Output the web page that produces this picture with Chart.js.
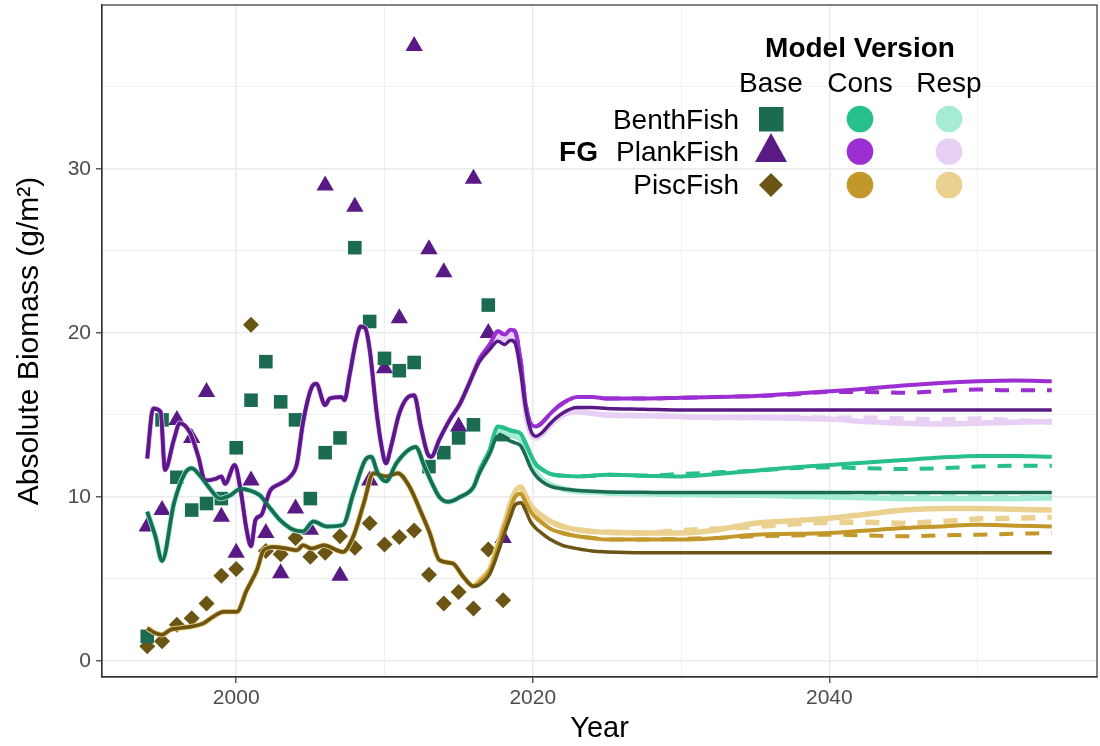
<!DOCTYPE html>
<html>
<head>
<meta charset="utf-8">
<script src="https://cdn.jsdelivr.net/npm/chart.js@4.4.0/dist/chart.umd.min.js"></script>
<style>
html, body { margin: 0; padding: 0; background: #fff; }
</style>
</head>
<body>
<canvas id="myChart" width="1100" height="746"></canvas>
<script>
// observed biomass (points), one per year
const obsYears = [1994,1995,1996,1997,1998,1999,2000,2001,2002,2003,2004,2005,2006,2007,2008,2009,2010,2011,2012,2013,2014,2015,2016,2017,2018];
const benthObs = [1.5,14.7,11.2,9.2,9.6,9.9,13.0,15.9,18.25,15.8,14.7,9.9,12.7,13.6,25.2,20.7,18.45,17.7,18.2,11.85,12.7,13.6,14.4,21.7,13.8];
const plankObs = [8.2,9.2,14.7,13.6,16.4,8.8,6.6,11.0,7.8,5.35,9.3,8.0,29.0,5.2,27.7,11.0,17.85,20.9,37.5,25.1,23.7,14.3,29.4,20.0,7.5];
const piscObs = [0.9,1.2,2.2,2.6,3.5,5.2,5.6,20.5,6.7,6.5,7.5,6.35,6.6,7.6,6.9,8.4,7.1,7.55,7.95,5.25,3.5,4.2,3.2,6.8,3.7];

// hindcast part of the model runs (same for every version)
const benthHistYears = [1994,1994.55,1995,1995.8,1996.55,1997,1997.6,1998.15,1998.9,1999.6,2000.3,2000.9,2001.6,2002.3,2002.95,2003.85,2004.5,2005.2,2006.1,2007.2,2007.9,2008.7,2009.1,2009.55,2010.1,2010.8,2011.6,2012.1,2012.7,2013.25,2013.7,2014.3,2015.1,2016.0];
const benthHist = [9.1,7.6,6.1,9.6,11.45,11.75,11.25,10.6,9.9,10.1,10.5,10.4,10.1,9.3,8.6,8.0,7.9,8.5,8.2,8.3,10.2,12.25,12.45,11.45,10.95,12.05,12.85,13.05,11.85,10.75,10.0,9.7,10.0,10.6];
const plankHistYears = [1994,1994.4,1994.9,1995.2,1995.8,1996.2,1996.9,1997.45,1997.9,1998.6,1999.0,1999.25,1999.9,2000.3,2000.7,2001.0,2001.3,2001.7,2002.05,2002.3,2002.95,2003.6,2004.1,2004.5,2005.1,2005.4,2006.0,2006.3,2007.1,2007.3,2007.65,2008.1,2008.4,2008.7,2009.0,2009.45,2009.8,2010.1,2010.45,2011.0,2011.6,2012.0,2012.45,2012.9,2013.15,2013.7,2014.4,2015.1,2015.7];
const plankHist = [12.35,15.4,15.2,11.65,13.5,14.5,13.9,12.45,11.0,11.1,11.25,10.8,11.95,10.4,8.0,7.0,8.6,8.9,9.8,10.4,10.8,11.2,12.05,14.5,16.7,16.9,15.6,16.0,16.1,15.9,17.45,19.6,20.4,20.3,19.0,15.3,13.1,12.05,13.1,15.1,16.1,16.2,14.3,12.65,12.45,13.5,14.7,15.7,16.9];
const piscHistYears = [1994,1994.55,1995,1995.55,1996.2,1997,1997.8,1998.45,1999.15,2000.05,2000.7,2001.4,2001.85,2002.5,2003.4,2004.1,2004.5,2005.1,2005.9,2007.2,2007.9,2008.6,2009.25,2010.1,2010.9,2011.7,2012.4,2013.05,2013.7,2014.6,2015.3,2016.0];
const piscHist = [2.0,1.7,1.6,1.9,2.0,2.1,2.3,2.7,3.0,3.0,4.3,5.55,6.75,6.95,6.85,6.75,7.05,6.85,7.05,6.65,7.6,9.6,11.45,11.25,11.45,10.6,9.2,7.8,6.15,5.95,5.15,4.55];

// last hindcast years + projections, per model version (Alt = dashed)
const futYears = [2016.4,2017.1,2017.65,2018.1,2018.5,2018.8,2019.2,2019.5,2019.85,2020.2,2020.6,2021.2,2022,2023,2024,2025,2027.5,2030,2032.5,2035,2037.5,2040,2042.5,2045,2047.5,2050,2052.5,2055];
const benthBase = [11.45,12.65,13.7,13.6,13.4,13.3,13.1,12.55,11.8,11.3,10.95,10.65,10.5,10.4,10.35,10.3,10.28,10.27,10.27,10.27,10.27,10.27,10.27,10.27,10.27,10.27,10.27,10.27];
const benthCons = [11.6,12.9,14.3,14.2,14.05,14.0,13.85,13.3,12.6,12.0,11.7,11.4,11.3,11.25,11.3,11.35,11.3,11.25,11.4,11.6,11.8,11.95,12.1,12.25,12.4,12.5,12.5,12.45];
const benthConsAlt = [11.6,12.9,14.3,14.2,14.05,14.0,13.85,13.3,12.6,12.0,11.7,11.4,11.3,11.25,11.3,11.35,11.3,11.4,11.5,11.6,11.75,11.8,11.75,11.7,11.75,11.85,11.9,11.9];
const benthResp = [11.5,12.7,14.1,14.0,13.8,13.7,13.5,12.9,12.1,11.5,11.1,10.75,10.5,10.35,10.3,10.25,10.2,10.15,10.12,10.1,10.05,10.0,9.95,9.9,9.9,9.9,9.9,9.95];
const benthRespAlt = [11.5,12.7,14.1,14.0,13.8,13.7,13.5,12.9,12.1,11.5,11.1,10.75,10.5,10.35,10.3,10.25,10.2,10.2,10.15,10.1,10.1,10.05,10.05,10.0,10.0,10.0,9.95,9.95];
const plankBase = [18.25,19.0,19.5,19.3,19.55,19.4,17.55,15.5,14.1,13.7,13.9,14.5,15.1,15.45,15.45,15.4,15.35,15.3,15.3,15.3,15.3,15.3,15.3,15.3,15.3,15.3,15.3,15.3];
const plankCons = [18.4,19.3,20.1,19.9,20.2,20.1,18.2,15.8,14.5,14.3,14.5,15.1,15.7,16.1,16.1,16.0,16.0,16.05,16.1,16.15,16.3,16.45,16.6,16.8,16.95,17.05,17.1,17.05];
const plankConsAlt = [18.4,19.3,20.1,19.9,20.2,20.1,18.2,15.8,14.5,14.3,14.5,15.1,15.7,16.1,16.1,16.0,16.0,16.05,16.1,16.15,16.25,16.4,16.4,16.35,16.45,16.55,16.5,16.5];
const plankResp = [18.3,19.1,19.8,19.6,19.9,19.7,17.8,15.3,13.9,13.6,13.8,14.4,15.0,15.2,15.1,15.0,14.95,14.9,14.85,14.85,14.8,14.75,14.6,14.5,14.45,14.5,14.55,14.6];
const plankRespAlt = [18.3,19.1,19.8,19.6,19.9,19.7,17.8,15.3,13.9,13.6,13.8,14.4,15.0,15.2,15.1,15.0,14.95,14.9,14.85,14.85,14.85,14.8,14.8,14.75,14.7,14.75,14.65,14.55];
const piscBase = [4.65,5.3,6.6,7.8,8.8,9.5,9.65,9.2,8.5,8.1,7.8,7.4,7.05,6.85,6.7,6.65,6.6,6.6,6.6,6.6,6.6,6.6,6.6,6.6,6.6,6.6,6.6,6.6];
const piscCons = [4.8,5.5,6.9,8.2,9.3,10.0,10.2,9.7,9.1,8.75,8.45,8.05,7.8,7.6,7.5,7.4,7.4,7.4,7.5,7.7,7.75,7.8,7.95,8.1,8.2,8.3,8.25,8.2];
const piscConsAlt = [4.8,5.5,6.9,8.2,9.3,10.0,10.2,9.7,9.1,8.75,8.45,8.05,7.8,7.6,7.5,7.4,7.4,7.45,7.5,7.6,7.65,7.7,7.65,7.6,7.65,7.7,7.75,7.8];
const piscResp = [4.9,5.6,7.1,8.4,9.6,10.3,10.6,10.1,9.5,9.15,8.85,8.5,8.2,8.0,7.9,7.85,7.8,7.8,8.0,8.4,8.55,8.7,8.95,9.2,9.3,9.3,9.25,9.2];
const piscRespAlt = [4.9,5.6,7.1,8.4,9.6,10.3,10.6,10.1,9.5,9.15,8.85,8.5,8.2,8.0,7.9,7.85,7.8,7.95,8.05,8.2,8.35,8.45,8.45,8.4,8.5,8.65,8.7,8.75];

// colours: base (dark), cons, resp (light)
const colBase = {benth: '#1b6b52', plank: '#5a1a86', pisc: '#6b5514'};
const colCons = {benth: '#27bf8b', plank: '#9b2fd1', pisc: '#c3982b'};
const colResp = {benth: '#a6ebd6', plank: '#e8d0f4', pisc: '#ebd18f'};

Chart.defaults.font.family = '"Liberation Sans", Arial, sans-serif';

function toPoints(xs, ys) {
    return xs.map((x, i) => ({x: x, y: ys[i]}));
}

function lineSet(xs, ys, color, width, dashed) {
    return {
        data: toPoints(xs, ys),
        showLine: true,
        borderColor: color,
        backgroundColor: color,
        borderWidth: width,
        borderDash: dashed ? [14, 12] : [],
        pointRadius: 0,
        cubicInterpolationMode: 'monotone',
        fill: false
    };
}

function pointSet(ys, color, style, r) {
    return {
        data: toPoints(obsYears, ys),
        showLine: false,
        backgroundColor: color,
        borderColor: color,
        pointStyle: style,
        pointRadius: r,
        pointBorderWidth: 0
    };
}

const groups = [
    {k: 'benth', hx: benthHistYears, hy: benthHist, base: benthBase, cons: benthCons, consAlt: benthConsAlt, resp: benthResp, respAlt: benthRespAlt},
    {k: 'plank', hx: plankHistYears, hy: plankHist, base: plankBase, cons: plankCons, consAlt: plankConsAlt, resp: plankResp, respAlt: plankRespAlt},
    {k: 'pisc', hx: piscHistYears, hy: piscHist, base: piscBase, cons: piscCons, consAlt: piscConsAlt, resp: piscResp, respAlt: piscRespAlt}
];

// first dataset is drawn on top
let datasets = [];
for (const g of groups) {
    datasets.push(lineSet(g.hx.concat(futYears), g.hy.concat(g.base), colBase[g.k], 3.5, false));
}
for (const g of groups) {
    datasets.push(lineSet(g.hx.concat(futYears), g.hy.concat(g.cons), colCons[g.k], 4, false));
}
for (const g of groups) {
    datasets.push(lineSet(futYears, g.consAlt, colCons[g.k], 4, true));
}
for (const g of groups) {
    datasets.push(lineSet(g.hx.concat(futYears), g.hy.concat(g.resp), colResp[g.k], 5.5, false));
}
for (const g of groups) {
    datasets.push(lineSet(futYears, g.respAlt, colResp[g.k], 5.5, true));
}
datasets.push(pointSet(benthObs, colBase.benth, 'rect', 9.6));
datasets.push(pointSet(plankObs, colBase.plank, 'triangle', 10));
datasets.push(pointSet(piscObs, colBase.pisc, 'rectRot', 8));

// panel border on all four sides
const panelBorder = {
    id: 'panelBorder',
    afterDatasetsDraw(chart) {
        const a = chart.chartArea, c = chart.ctx;
        c.save();
        c.strokeStyle = '#333333';
        c.lineWidth = 1.2;
        c.strokeRect(a.left, a.top, a.right - a.left, a.bottom - a.top);
        c.restore();
    }
};

// ggplot style legend inside the panel
const fgLegend = {
    id: 'fgLegend',
    afterDraw(chart) {
        const c = chart.ctx;
        c.save();
        c.fillStyle = '#000';
        c.textBaseline = 'alphabetic';
        c.font = 'bold 28px "Liberation Sans", Arial, sans-serif';
        c.textAlign = 'center';
        c.fillText('Model Version', 860, 57);
        c.textAlign = 'right';
        c.fillText('FG', 598, 161);
        c.font = '28px "Liberation Sans", Arial, sans-serif';
        c.textAlign = 'center';
        c.fillText('Base', 771, 92);
        c.fillText('Cons', 860, 92);
        c.fillText('Resp', 949, 92);
        c.textAlign = 'right';
        c.fillText('BenthFish', 739, 129);
        c.fillText('PlankFish', 739, 161);
        c.fillText('PiscFish', 739, 194);

        const rows = [119, 151.5, 185];
        const keys = ['benth', 'plank', 'pisc'];
        // base shapes
        c.fillStyle = colBase.benth;
        c.fillRect(759, 107, 24.5, 24.5);
        c.fillStyle = colBase.plank;
        c.beginPath();
        c.moveTo(771, 133);
        c.lineTo(787, 162);
        c.lineTo(755, 162);
        c.closePath();
        c.fill();
        c.fillStyle = colBase.pisc;
        c.beginPath();
        c.moveTo(771, 173);
        c.lineTo(783, 185);
        c.lineTo(771, 197);
        c.lineTo(759, 185);
        c.closePath();
        c.fill();
        // cons / resp circles
        for (let i = 0; i < 3; i++) {
            c.fillStyle = colCons[keys[i]];
            c.beginPath();
            c.arc(860, rows[i], 13.3, 0, Math.PI * 2);
            c.fill();
            c.fillStyle = colResp[keys[i]];
            c.beginPath();
            c.arc(949, rows[i], 13.3, 0, Math.PI * 2);
            c.fill();
        }
        c.restore();
    }
};

const isMajorX = v => v % 20 === 0;
const isMajorY = v => v % 10 === 0;

const config = {
    type: 'scatter',
    data: {datasets: datasets},
    plugins: [panelBorder, fgLegend],
    options: {
        responsive: false,
        animation: false,
        devicePixelRatio: 1,
        layout: {autoPadding: false, padding: {top: 5, right: 3, left: 0, bottom: 0}},
        plugins: {
            legend: {display: false},
            tooltip: {enabled: false}
        },
        scales: {
            x: {
                type: 'linear',
                min: 1990.95,
                max: 2058.05,
                afterBuildTicks: s => { s.ticks = [2000, 2010, 2020, 2030, 2040, 2050].map(v => ({value: v})); },
                afterFit: s => { s.height = 69; s.paddingLeft = 0; s.paddingRight = 0; },
                ticks: {
                    callback: v => isMajorX(v) ? String(v) : '',
                    color: '#4d4d4d',
                    font: {size: 21},
                    padding: 3,
                    maxRotation: 0,
                    autoSkip: false
                },
                grid: {
                    color: '#ebebeb',
                    lineWidth: ctx => (ctx.tick && isMajorX(ctx.tick.value)) ? 1.6 : 0.8,
                    tickColor: ctx => (ctx.tick && isMajorX(ctx.tick.value)) ? '#333333' : 'rgba(0,0,0,0)',
                    tickWidth: 1.2,
                    tickLength: 6
                },
                border: {display: true, color: '#333333', width: 1.2},
                title: {display: true, text: 'Year', color: '#000', font: {size: 29}, padding: {top: 0, bottom: 0}}
            },
            y: {
                type: 'linear',
                min: -0.98,
                max: 40,
                afterBuildTicks: s => { s.ticks = [0, 5, 10, 15, 20, 25, 30, 35].map(v => ({value: v})); },
                afterFit: s => { s.width = 102; s.paddingTop = 0; s.paddingBottom = 0; },
                ticks: {
                    callback: v => isMajorY(v) ? String(v) : '',
                    color: '#4d4d4d',
                    font: {size: 21},
                    padding: 5
                },
                grid: {
                    color: '#ebebeb',
                    lineWidth: ctx => (ctx.tick && isMajorY(ctx.tick.value)) ? 1.6 : 0.8,
                    tickColor: ctx => (ctx.tick && isMajorY(ctx.tick.value)) ? '#333333' : 'rgba(0,0,0,0)',
                    tickWidth: 1.2,
                    tickLength: 6
                },
                border: {display: true, color: '#333333', width: 1.2},
                title: {display: true, text: 'Absolute Biomass (g/m²)', color: '#000', font: {size: 30}, padding: {top: 12, bottom: 0}}
            }
        }
    }
};

const ctx = document.getElementById('myChart');
const myChart = new Chart(ctx, config);
</script>
</body>
</html>
